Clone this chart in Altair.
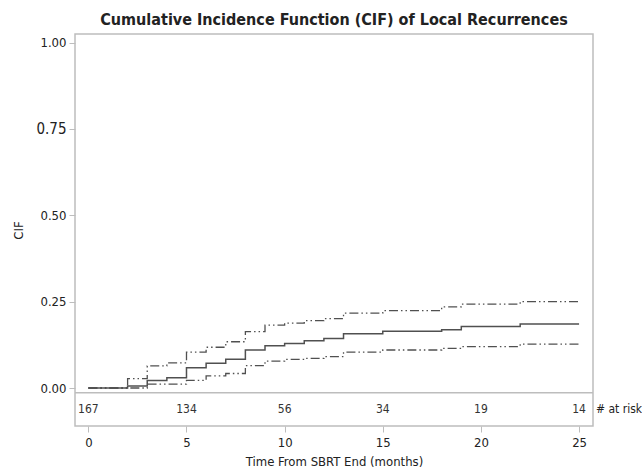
import altair as alt
import pandas as pd

# Step-function estimates (months, CIF)
times = [0, 2, 3, 4, 5, 6, 7, 8, 9, 10, 11, 12, 13, 15, 18, 19, 22, 25]
cif = [0, 0.006, 0.022, 0.030, 0.059, 0.072, 0.083, 0.110, 0.122, 0.129, 0.137,
       0.143, 0.157, 0.164, 0.169, 0.178, 0.185, 0.185]
lower = [0, 0, 0.011, 0.011, 0.022, 0.035, 0.042, 0.065, 0.078, 0.083, 0.086,
         0.091, 0.104, 0.110, 0.115, 0.120, 0.127, 0.127]
upper = [0, 0.027, 0.064, 0.073, 0.104, 0.118, 0.134, 0.163, 0.182, 0.188, 0.195,
         0.201, 0.217, 0.224, 0.235, 0.243, 0.250, 0.250]

risk_times = [0, 5, 10, 15, 20, 25]
at_risk = [167, 134, 56, 34, 19, 14]

x_ticks = [0, 5, 10, 15, 20, 25]
y_ticks = [0, 0.25, 0.5, 0.75, 1.0]

FONT = "DejaVu Sans Condensed, Liberation Sans Narrow, DejaVu Sans"
W, H = 518, 392
FRAME = "#bdbdbd"
LINE = "#505050"

curves = pd.DataFrame({"t": times, "cif": cif, "lower": lower, "upper": upper})
risk = pd.DataFrame({"t": risk_times, "n": at_risk})

xs = alt.Scale(domain=[-0.68, 25.71], nice=False, zero=False)
ys = alt.Scale(domain=[-0.110, 1.025], nice=False, zero=False)

x_axis = alt.Axis(values=x_ticks, title="Time From SBRT End (months)", grid=False,
                  domain=False, tickColor=FRAME, tickSize=6, labelPadding=4,
                  labelFontSize=13, titleFontSize=13, labelColor="#222",
                  titleColor="#222", titleFontWeight="normal", titlePadding=6,
                  labelFont=FONT, titleFont=FONT)
y_axis = alt.Axis(values=y_ticks, format=".2f", title="CIF", grid=False,
                  domain=False, tickColor=FRAME, tickSize=6, labelPadding=3,
                  labelFontSize={"condition": {"test": "datum.value == 0.75", "value": 15},
                                 "value": 13},
                  titleFontSize=13, labelColor="#222", titleColor="#222",
                  titleFontWeight="normal", titleX=-50, labelFont=FONT, titleFont=FONT)

X = alt.X("t:Q", scale=xs, axis=x_axis)

base = alt.Chart(curves)
solid = base.mark_line(interpolate="step-after", color=LINE, strokeWidth=1.5).encode(
    x=X, y=alt.Y("cif:Q", scale=ys, axis=y_axis))
lo = base.mark_line(interpolate="step-after", color=LINE, strokeWidth=1.3,
                    strokeDash=[9, 3, 1.5, 3, 1.5, 3]).encode(
    x=X, y=alt.Y("lower:Q", scale=ys, axis=y_axis))
up = base.mark_line(interpolate="step-after", color=LINE, strokeWidth=1.3,
                    strokeDash=[9, 3, 1.5, 3, 1.5, 3]).encode(
    x=X, y=alt.Y("upper:Q", scale=ys, axis=y_axis))

sep = alt.Chart(pd.DataFrame({"a": [0]})).mark_rule(color=FRAME, strokeWidth=1.5).encode(
    y=alt.datum(-0.0136, scale=ys), x=alt.value(0), x2=alt.value(W))

risk_text = alt.Chart(risk).mark_text(font=FONT, fontSize=12, color="#333",
                                      baseline="middle").encode(
    x=alt.X("t:Q", scale=xs, axis=x_axis), y=alt.datum(-0.061, scale=ys), text="n:Q")

risk_label = alt.Chart(pd.DataFrame({"lab": ["# at risk"]})).mark_text(
    font=FONT, fontSize=12, color="#222", align="left", baseline="middle").encode(
    x=alt.value(W + 3), y=alt.datum(-0.061, scale=ys), text="lab:N")

chart = alt.layer(solid, lo, up, sep, risk_text, risk_label).properties(
    width=W, height=H,
    title=alt.TitleParams("Cumulative Incidence Function (CIF) of Local Recurrences",
                          font=FONT, fontSize=16, fontWeight="bold", color="#222",
                          anchor="middle", offset=6),
    autosize=alt.AutoSizeParams(type="none"),
    padding={"left": 75, "top": 34, "right": 49, "bottom": 45},
).configure_view(stroke=FRAME, strokeWidth=1.5)

chart.save("out.html", embed_options={"renderer": "svg", "actions": False})
